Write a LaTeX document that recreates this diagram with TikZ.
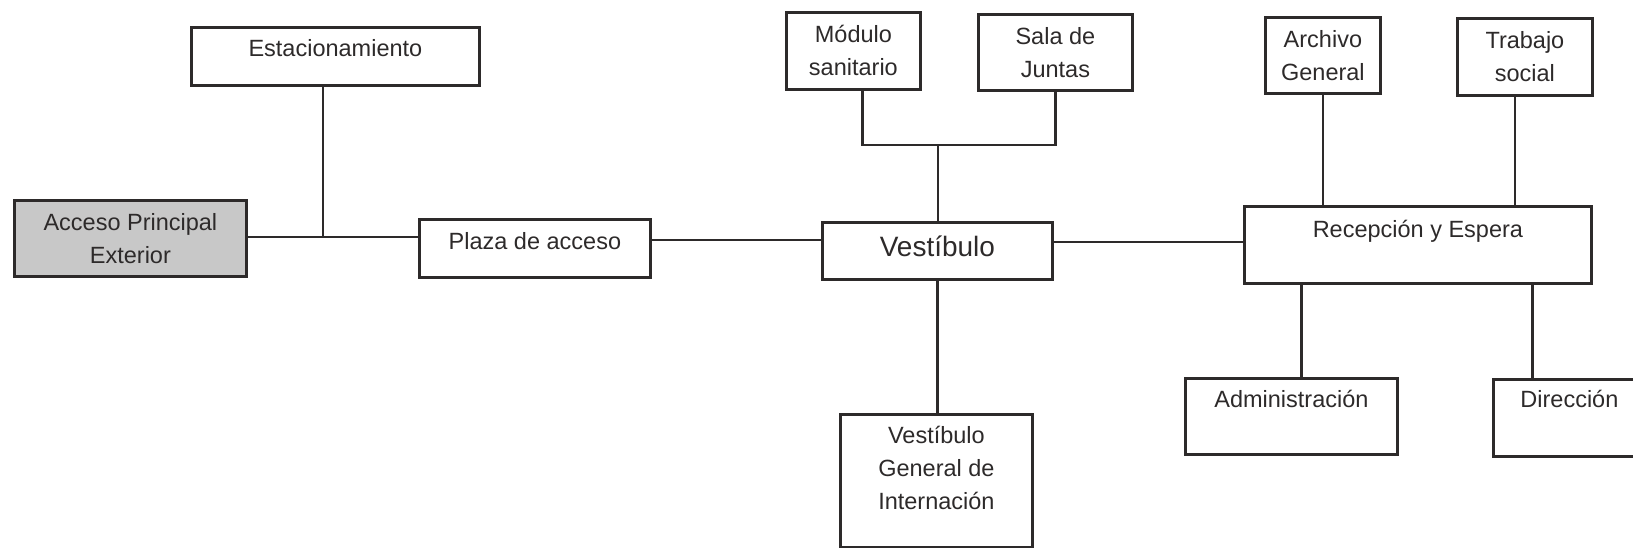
\documentclass[tikz,border=0pt]{standalone}
\usepackage{fontspec}
\setmainfont{Liberation Sans}
\definecolor{inkline}{RGB}{45,42,42}
\definecolor{shade}{RGB}{200,200,200}

\begin{document}
\begin{tikzpicture}[x=1pt,y=-1pt,
    box/.style={draw=inkline,line width=2.8pt,inner sep=0pt,align=center,
      anchor=north west,text=inkline,font=\fontsize{23.5}{33}\selectfont},
    link/.style={draw=inkline,line width=2.8pt}]
  \useasboundingbox (0,0) rectangle (1633,547);
  \clip (0,0) rectangle (1633,547);

  \node [box,fill=shade,minimum width=232,minimum height=76] (acc) at (13,199)
    {Acceso Principal\\Exterior};
  \node [box,minimum width=288,text height=29pt,text depth=29pt] (estac) at (190,26)
    {Estacionamiento};
  \node [box,minimum width=231,text height=30.5pt,text depth=27.5pt] (plaza) at (418,218)
    {Plaza de acceso};
  \node [box,minimum width=230,text height=34pt,text depth=23pt,
    font=\fontsize{28}{34}\selectfont] (vest) at (821,221) {Vestíbulo};
  \node [box,minimum width=134,minimum height=77] (mod) at (785,11) {Módulo\\sanitario};
  \node [box,minimum width=154,minimum height=76] (sala) at (977,13) {Sala de\\Juntas};
  \node [box,minimum width=192,text height=95.5pt,text depth=37.5pt] (vgi) at (839,413)
    {Vestíbulo\\General de\\Internación};
  \node [box,minimum width=115,minimum height=76] (arch) at (1264,16) {Archivo\\General};
  \node [box,minimum width=135,minimum height=77] (trab) at (1456,17) {Trabajo\\social};
  \node [box,minimum width=347,text height=31.5pt,text depth=45.5pt] (rec) at (1243,205)
    {Recepción y Espera};
  \node [box,minimum width=212,text height=29.5pt,text depth=46.5pt] (adm) at (1184,377)
    {Administración};
  \node [box,minimum width=152,text height=28.5pt,text depth=48.5pt] (dir) at (1492,378)
    {Dirección};

  % left branch
  \coordinate (j1) at (323,237);
  \draw [link] (acc.east |- j1) -- (j1 -| plaza.west);
  \draw [link] (estac.south -| j1) -- (j1);
  \draw [link] (plaza.east |- 0,240) -- (vest.west |- 0,240);

  % vestibulo
  \coordinate (j2) at (938,145);
  \coordinate (m1) at ([xshift=9pt]mod.south);
  \draw [link] (m1) |- (j2) -| (sala.south);
  \draw [link] (j2) -- (j2 |- vest.north);
  \draw [link] (vest.south) -- (vest.south |- vgi.north);
  \draw [link] (vest.east |- 0,242) -- (rec.west |- 0,242);

  % recepcion
  \coordinate (t1) at ([xshift=-10pt]trab.south);
  \coordinate (a1) at ([xshift=10pt]adm.north);
  \coordinate (d1) at ([xshift=-37pt]dir.north);
  \draw [link] (arch.south) -- (arch.south |- rec.north);
  \draw [link] (t1) -- (t1 |- rec.north);
  \draw [link] (a1 |- rec.south) -- (a1);
  \draw [link] (d1 |- rec.south) -- (d1);
\end{tikzpicture}
\end{document}
